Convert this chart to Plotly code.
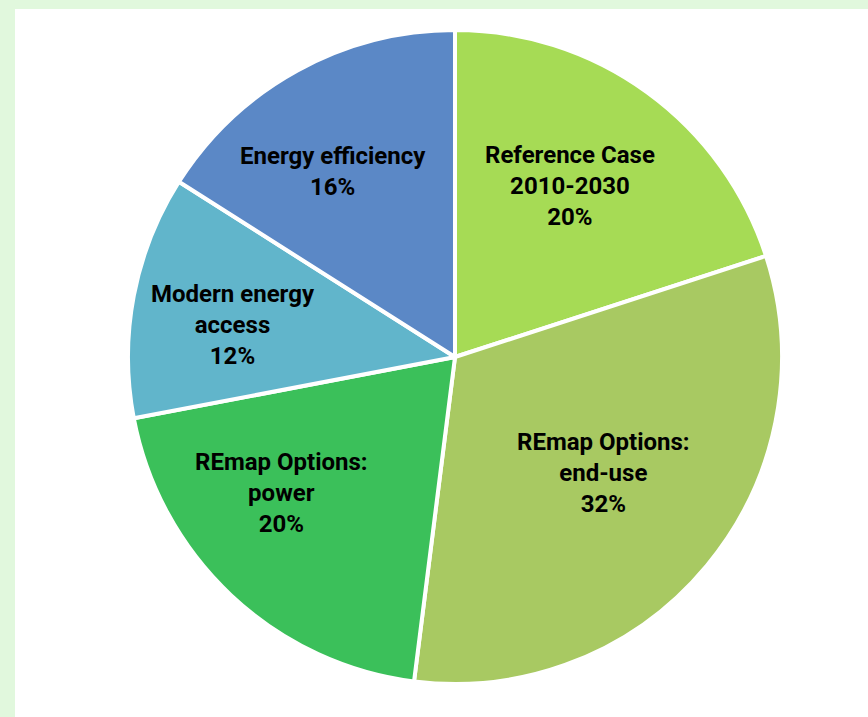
import plotly.graph_objects as go

# Shares of the renewable energy doubling pathway (clockwise from 12 o'clock)
categories = [
    "Reference Case<br>2010-2030",
    "REmap Options:<br>end-use",
    "REmap Options:<br>power",
    "Modern energy<br>access",
    "Energy efficiency",
]
shares = [20, 32, 20, 12, 16]
colors = ["#A6DB55", "#A8C962", "#3BC05A", "#61B5CB", "#5B88C6"]

W, H = 868, 717
CX, CY, R = 455, 357, 327  # pie centre and radius in pixels

# label block centres in pixels
label_xy = [(570, 186), (603, 473), (281, 493), (233, 325), (333, 171)]

fig = go.Figure(
    go.Pie(
        labels=categories,
        values=shares,
        sort=False,
        direction="clockwise",
        rotation=0,
        marker=dict(colors=colors, line=dict(color="white", width=4)),
        textinfo="none",
        hoverinfo="label+percent",
        showlegend=False,
        domain=dict(x=[(CX - R) / W, (CX + R) / W],
                    y=[(H - CY - R) / H, (H - CY + R) / H]),
    )
)

for name, val, (px, py) in zip(categories, shares, label_xy):
    fig.add_annotation(
        x=px / W, y=1 - py / H, xref="paper", yref="paper",
        xanchor="center", yanchor="middle",
        text=f"<b>{name}<br>{val}%</b>",
        showarrow=False, align="center",
        font=dict(family="Roboto", size=24, color="#000000"),
    )

# white panel sitting on the light green page background
fig.add_shape(type="rect", xref="paper", yref="paper",
              x0=15 / W, x1=1.01, y0=-0.01, y1=1 - 9 / H,
              fillcolor="white", line=dict(width=0), layer="below")

fig.update_layout(
    width=W, height=H,
    margin=dict(l=0, r=0, t=0, b=0),
    paper_bgcolor="#E1F8DD",
    plot_bgcolor="white",
)

fig.write_html("out.html")
